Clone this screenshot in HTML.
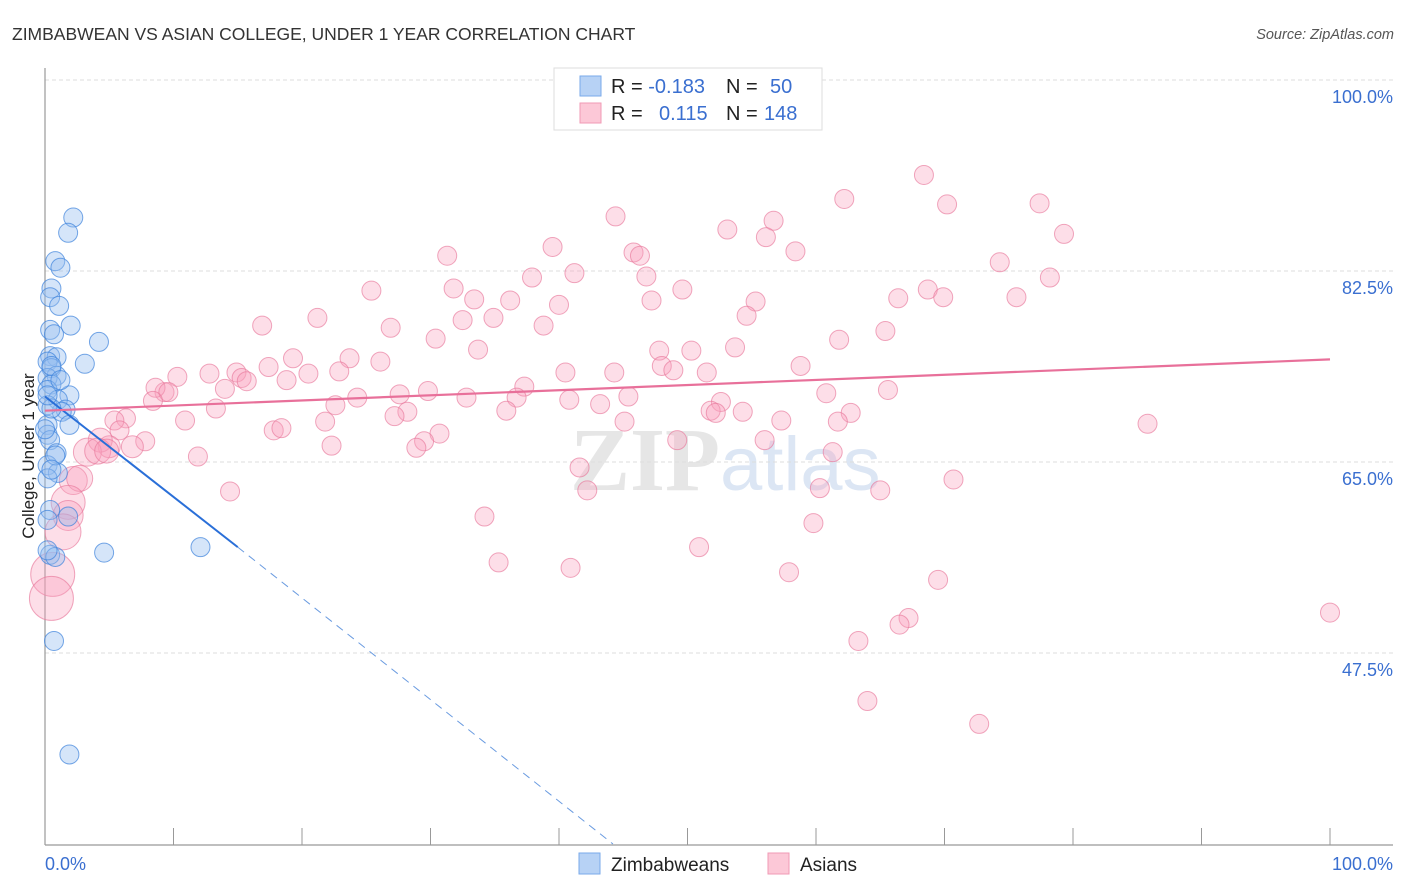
<!DOCTYPE html>
<html><head><meta charset="utf-8"><style>
body{margin:0;background:#fff;font-family:"Liberation Sans",sans-serif;}
svg{display:block}
</style></head><body>
<svg id="chart" width="1406" height="892" viewBox="0 0 1406 892">
<text x="12" y="40" font-size="17.5" fill="#333">ZIMBABWEAN VS ASIAN COLLEGE, UNDER 1 YEAR CORRELATION CHART</text>
<text x="1394" y="39" font-size="14.5" fill="#555" font-style="italic" text-anchor="end">Source: ZipAtlas.com</text>
<text x="720" y="490" font-size="90" fill="#e6e6e6" text-anchor="end" font-family="Liberation Serif" font-weight="bold">ZIP</text>
<text x="720" y="490" font-size="76" fill="#dce6f4">atlas</text>
<g id="grid"></g>
<g id="axes"></g>
<text transform="translate(34,456) rotate(-90)" font-size="17" fill="#222" text-anchor="middle">College, Under 1 year</text>
<g id="pts"></g>
<g id="trends"></g>
<g>
<rect x="554" y="68" width="268" height="62" fill="#fff" stroke="#ddd"/>
<rect x="580" y="76" width="21" height="20" fill="#b7d2f5" stroke="#7aaaea"/>
<rect x="580" y="103" width="21" height="20" fill="#fcc8d7" stroke="#f09ab4"/>
<text x="611" y="93" font-size="20" fill="#222">R = <tspan fill="#3a6fd0">-0.183</tspan><tspan x="726">N = </tspan><tspan x="770" fill="#3a6fd0">50</tspan></text>
<text x="611" y="120" font-size="20" fill="#222">R = <tspan x="659" fill="#3a6fd0">0.115</tspan><tspan x="726">N = </tspan><tspan x="764" fill="#3a6fd0">148</tspan></text>
</g>
<g>
<rect x="579" y="853" width="21" height="21" fill="#b7d2f5" stroke="#7aaaea"/>
<text x="611" y="871" font-size="19" fill="#222">Zimbabweans</text>
<rect x="768" y="853" width="21" height="21" fill="#fcc8d7" stroke="#f09ab4"/>
<text x="800" y="871" font-size="19" fill="#222">Asians</text>
</g>
</svg>
<script>
const yTicks=[100,82.5,65,47.5];
const xTickLabels=["0.0%","100.0%"];
const zimX=[2.2,1.8,0.8,1.2,0.5,0.4,1.1,0.4,2.0,0.7,4.2,0.4,0.9,3.1,0.2,0.5,0.9,0.2,0.5,1.9,0.2,1.0,1.6,1.3,0.2,1.9,0.2,0.2,0.4,0.9,0.2,1.0,0.2,1.8,0.4,0.2,0.4,0.8,4.6,12.1,0.7,1.9,0.5,0.2,0.5,1.2,0.0,0.8,0.2,0.5];
const zimY=[87.4,86.0,83.4,82.8,80.9,80.1,79.3,77.1,77.5,76.7,76.0,74.7,74.6,74.0,74.2,73.6,72.9,72.7,72.1,71.1,71.6,70.7,69.8,69.6,70.2,68.4,68.4,67.5,67.0,65.8,64.7,64.0,63.5,60.0,60.6,59.7,56.5,56.3,56.7,57.2,48.6,38.2,69.9,71.1,73.8,72.5,68.0,65.6,56.9,64.3];
const asiaX=[44.4,53.1,56.7,56.1,62.2,68.4,70.2,77.4,79.3,39.5,
45.8,46.3,31.3,58.4,74.3,41.2,46.8,37.9,78.2,31.8,
49.6,25.4,33.4,36.2,47.2,55.3,66.4,68.7,69.9,75.6,
40.0,21.2,32.5,34.9,54.6,16.9,26.9,38.8,65.4,30.4,
61.8,53.7,33.7,47.8,50.3,23.7,19.3,26.1,58.8,48.0,
48.9,40.5,44.3,51.5,14.9,17.4,15.3,22.9,12.8,10.3,
15.7,18.8,20.5,14.0,27.6,29.8,37.3,45.4,65.6,9.3,
8.6,9.6,8.4,60.8,52.6,24.3,22.6,36.7,32.8,40.8,
43.2,13.3,28.2,27.2,35.9,51.8,52.2,54.3,62.7,10.9,
6.3,5.4,5.8,21.8,17.8,18.4,45.1,57.3,61.7,30.7,
29.5,56.0,7.8,6.8,5.0,4.3,3.3,4.1,4.8,22.3,
28.9,49.2,61.3,85.8,11.9,41.6,42.2,60.3,65.0,70.7,
14.4,2.2,2.7,1.8,1.8,1.4,0.6,0.5,34.2,59.8,
50.9,35.3,40.9,57.9,69.5,100,67.2,66.5,63.3,64.0,72.7];
const asiaY=[87.5,86.3,87.1,85.6,89.1,91.3,88.6,88.7,85.9,84.7,
84.2,83.9,83.9,84.3,83.3,82.3,82.0,81.9,81.9,80.9,
80.8,80.7,79.9,79.8,79.8,79.7,80.0,80.8,80.1,80.1,
79.4,78.2,78.0,78.2,78.4,77.5,77.3,77.5,77.0,76.3,
76.2,75.5,75.3,75.2,75.2,74.5,74.5,74.2,73.8,73.8,
73.4,73.2,73.2,73.2,73.2,73.7,72.7,73.3,73.1,72.8,
72.4,72.5,73.1,71.7,71.2,71.5,71.9,71.0,71.6,71.4,
71.8,71.4,70.6,71.3,70.5,70.9,70.2,70.9,70.9,70.7,
70.3,69.9,69.6,69.2,69.7,69.7,69.5,69.6,69.5,68.8,
69.0,68.8,67.9,68.7,67.9,68.1,68.7,68.8,68.7,67.6,
66.9,67.0,66.9,66.4,66.4,67.0,65.9,66.0,66.0,66.5,
66.3,67.0,65.9,68.5,65.5,64.5,62.4,62.6,62.4,63.4,
62.3,63.3,63.5,61.3,60.1,58.6,54.7,52.5,60.0,59.4,
57.2,55.8,55.3,54.9,54.2,51.2,50.7,50.1,48.6,43.1,41.0];
const asiaR=[];for(let i=0;i<asiaX.length;i++)asiaR.push(9.5);
const bigIdx=[103,104,105,106,107,108,121,122,123,124,125,126,127];
const bigR=[11,11,12,14,13,12,14,13,17,15,18,22,22];
bigIdx.forEach((k,j)=>asiaR[k]=bigR[j]);
const zimTrend=[0,71.0,15,57.2,44.2,30];
const asiaTrend=[0,69.7,100,74.4];

const NS="http://www.w3.org/2000/svg";
const X=v=>45+v*12.85, Y=v=>80+(100-v)*10.914;
function mk(t,a,p){const e=document.createElementNS(NS,t);for(const k in a)e.setAttribute(k,a[k]);p.appendChild(e);return e;}
const grid=document.getElementById('grid'),axes=document.getElementById('axes'),pts=document.getElementById('pts'),tr=document.getElementById('trends');
yTicks.forEach(t=>{
 const l=mk('line',{x1:45,x2:1393,y1:Y(t),y2:Y(t),stroke:'#ddd','stroke-dasharray':'4,3'},grid);
 
 
 const s=mk('text',{x:1393,y:Y(t)+23,'font-size':18,fill:'#3a6fd0','text-anchor':'end'},grid);
 s.textContent=t.toFixed(1)+'%';
 
 
});
mk('line',{x1:45,x2:45,y1:68,y2:845,stroke:'#999','stroke-width':1.2},axes);
mk('line',{x1:45,x2:1393,y1:845,y2:845,stroke:'#999','stroke-width':1.2},axes);
for(let i=0;i<=10;i++){
 const t=mk('line',{x1:X(i*10),x2:X(i*10),y1:828,y2:845,stroke:'#999'},axes);
 
 
}
const xl0=mk('text',{x:45,y:870,'font-size':18,fill:'#3a6fd0'},axes);xl0.textContent=xTickLabels[0];


const xl1=mk('text',{x:1393,y:870,'font-size':18,fill:'#3a6fd0','text-anchor':'end'},axes);xl1.textContent=xTickLabels[1];


asiaX.forEach((v,i)=>{
 const c=mk('circle',{cx:X(v),cy:Y(asiaY[i]),r:asiaR[i],fill:'rgba(248,160,188,0.35)',stroke:'rgba(232,120,155,0.65)','stroke-width':1},pts);
 
 
});
zimX.forEach((v,i)=>{
 const c=mk('circle',{cx:X(v),cy:Y(zimY[i]),r:9.5,fill:'rgba(150,190,240,0.4)',stroke:'rgba(60,130,220,0.7)','stroke-width':1},pts);
 
 
});
const l1=mk('line',{x1:X(zimTrend[0]),y1:Y(zimTrend[1]),x2:X(zimTrend[2]),y2:Y(zimTrend[3]),stroke:'#2a6fd8','stroke-width':2},tr);


const l2=mk('line',{x1:X(zimTrend[2]),y1:Y(zimTrend[3]),x2:X(zimTrend[4]),y2:Y(zimTrend[5]),stroke:'#6a9be0','stroke-width':1,'stroke-dasharray':'8,6'},tr);


const l3=mk('line',{x1:X(asiaTrend[0]),y1:Y(asiaTrend[1]),x2:X(asiaTrend[2]),y2:Y(asiaTrend[3]),stroke:'#e8709a','stroke-width':2.2},tr);


</script>
</body></html>
